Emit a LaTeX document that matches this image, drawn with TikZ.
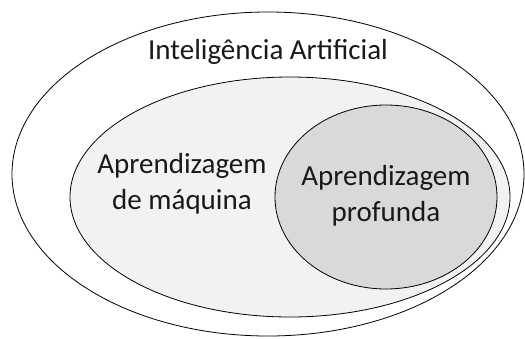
\documentclass[tikz,border=0pt]{standalone}
\usepackage{fontspec}
\setmainfont{Carlito}
\usepackage{tikz}

\begin{document}
\begin{tikzpicture}[x=1pt,y=-1pt,
        label/.style={align=center,font=\fontsize{29}{36}\selectfont,text=black!90}]
                \useasboundingbox (0,0) rectangle (525,338);
                \draw[line width=0.8pt,fill=white]
                    (268,174) ellipse [x radius=256,y radius=162];
                \draw[line width=0.8pt,fill=black!5]
                    (290,197) ellipse [x radius=220,y radius=120];
                \draw[line width=0.8pt,fill=black!15]
                    (386,197) ellipse [x radius=111,y radius=92];
                \node[label] (ia) at (268,52) {Inteligência Artificial};
                \node[label] (am) at (182,184) {Aprendizagem\\de máquina};
                \node[label] (ap) at (386,196) {Aprendizagem\\profunda};
            \end{tikzpicture}
\end{document}
